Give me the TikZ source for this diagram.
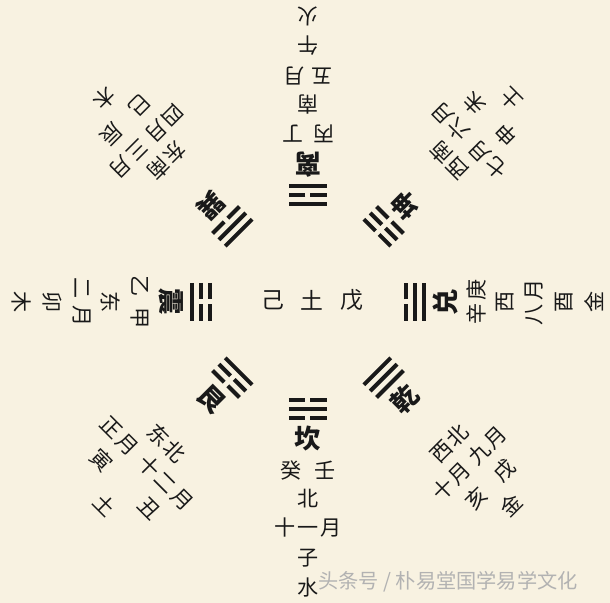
\documentclass[tikz,border=0pt]{standalone}
\usepackage{fontspec}
\usepackage{tikz}
\newfontfamily\cjk[LetterSpace=10]{Noto Sans CJK SC}
\newfontfamily\wmfont{Noto Sans CJK SC}
\definecolor{paper}{RGB}{248,242,225}
\tikzset{
  yao/.style={line width=0.08cm, black!90},
  txt/.style={font=\cjk\fontsize{12}{12}\selectfont, text=black!90, inner sep=0pt},
  gua/.style={font=\cjk\fontsize{15}{15}\selectfont\bfseries, text=black!90, inner sep=0pt},
  mid/.style={font=\cjk\fontsize{13}{13}\selectfont, text=black!90, inner sep=0pt},
  wmtext/.style={font=\wmfont\fontsize{11.5}{11.5}\selectfont, text=black!30, inner sep=0pt}
}

\begin{document}
\begin{tikzpicture}
\fill[paper] (-6.16,-6.02) rectangle (6.04,6.04);
\useasboundingbox (-6.16,-6.02) rectangle (6.04,6.04);
\draw (-0.7,0.04) node[mid] (ji) {己} ++(0.78,0) node[mid] (tu) {土} ++(0.8,0) node[mid] (wu) {戊};
\foreach \r/\ta/\tb/\tc/\nm/\stem/\dir/\mon/\br/\el in {
	0/0/1/0/坎/{癸\hspace{.26cm}壬}/北/十一月/子/水,
	180/1/0/1/离/{丙\hspace{.2cm}丁}/南/{五\hspace{.14cm}月}/午/火,
	90/0/1/1/兑/辛庚/西/{八\hspace{.08cm}月}/酉/金,
	270/0/0/1/震/{乙\hspace{.22cm}甲}/东/{二\hspace{.14cm}月}/卯/木} {
	\begin{scope}[rotate=\r, transform shape]
	\foreach \yy [count=\i] in {\ta,\tb,\tc} {
		\ifnum\yy=1
			\draw[yao] (-0.38,-1.78-0.18*\i) -- (0.38,-1.78-0.18*\i);
		\else
			\draw[yao] (-0.38,-1.78-0.18*\i) -- (-0.05,-1.78-0.18*\i) (0.05,-1.78-0.18*\i) -- (0.38,-1.78-0.18*\i);
		\fi
		};
	\draw (0,-2.74) node[gua] (nm\r) {\nm} ++(0,-0.62) node[txt] (st\r) {\stem} ++(0,-0.58) node[txt] (dir\r) {\dir}
		++(0,-0.58) node[txt] (mon\r) {\mon} ++(0,-0.6) node[txt] (br\r) {\br} ++(0,-0.6) node[txt] (el\r) {\el};
	\end{scope}
	};
\foreach \r/\ta/\tb/\tc/\nm/\dir/\mon/\br/\el in {
	45/1/1/1/乾/西北/{十月\hspace{.14cm}九月}/{亥\hspace{.38cm}戌}/金,
	135/0/0/0/坤/西南/{七月\hspace{.18cm}六月}/{申\hspace{.46cm}未}/土,
	225/1/1/0/巽/东南/{四月\hspace{.12cm}三月}/{巳\hspace{.38cm}辰}/木,
	315/1/0/0/艮/东北/{正月\hspace{.2cm}十二月}/{寅\hspace{.94cm}丑}/土} {
	\begin{scope}[rotate=\r, transform shape]
	\foreach \yy [count=\i] in {\ta,\tb,\tc} {
		\ifnum\yy=1
			\draw[yao] (-0.38,-1.78-0.18*\i) -- (0.38,-1.78-0.18*\i);
		\else
			\draw[yao] (-0.38,-1.78-0.18*\i) -- (-0.05,-1.78-0.18*\i) (0.05,-1.78-0.18*\i) -- (0.38,-1.78-0.18*\i);
		\fi
		};
	\draw (0,-2.74) node[gua] (nm\r) {\nm} ++(0,-1.26) node[txt] (dir\r) {\dir}
		++(0,-0.56) node[txt] (mon\r) {\mon} ++(0,-0.6) node[txt] (br\r) {\br} ++(0,-0.58) node[txt] (el\r) {\el};
	\end{scope}
	};
\node[wmtext] (wm) at (2.8,-5.6) {头条号 / 朴易堂国学易学文化};
\end{tikzpicture}
\end{document}
